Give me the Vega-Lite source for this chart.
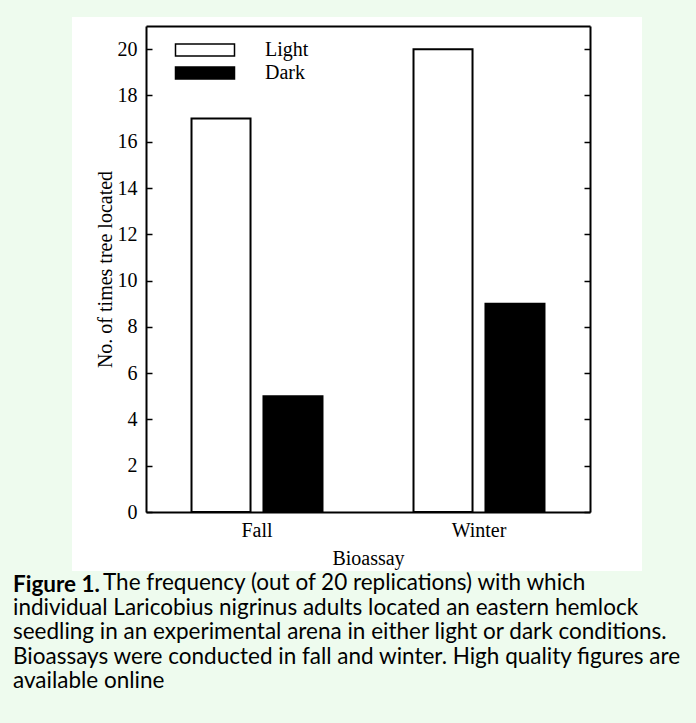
{
  "$schema": "https://vega.github.io/schema/vega-lite/v6.json",
  "autosize": {"type": "none"},
  "width": 570,
  "height": 554,
  "padding": {"left": 72, "top": 17, "right": 54, "bottom": 152},
  "background": "#EEFBEE",
  "data": {"values": [
    {"season": "Fall", "condition": "Light", "count": 17},
    {"season": "Fall", "condition": "Dark", "count": 5},
    {"season": "Winter", "condition": "Light", "count": 20},
    {"season": "Winter", "condition": "Dark", "count": 9}
  ]},
  "title": {
    "text": "Figure 1.",
    "subtitle": [
      "\u200b\u2003\u2003\u2003\u2003\u2003\u2009\u2009The frequency (out of 20 replications) with which",
      "individual Laricobius nigrinus adults located an eastern hemlock",
      "seedling in an experimental arena in either light or dark conditions.",
      "Bioassays were conducted in fall and winter. High quality figures are",
      "available online"
    ],
    "orient": "bottom",
    "anchor": "start",
    "frame": "group",
    "dx": -59,
    "offset": 3,
    "font": "Lato",
    "fontSize": 22.5,
    "fontWeight": "bold",
    "lineHeight": 24.5,
    "color": "black",
    "subtitleFont": "Lato",
    "subtitleFontSize": 22.5,
    "subtitleFontWeight": "normal",
    "subtitleLineHeight": 24.5,
    "subtitleColor": "black",
    "subtitlePadding": -24.5
  },
  "config": {
    "view": {"fill": "white", "stroke": null},
    "axis": {
      "labelFont": "Liberation Serif",
      "titleFont": "Liberation Serif",
      "labelFontSize": 20,
      "titleFontSize": 20,
      "titleFontWeight": "normal",
      "labelColor": "black",
      "titleColor": "black",
      "domainColor": "black",
      "domainWidth": 2,
      "tickColor": "black",
      "tickWidth": 1.5,
      "grid": false
    }
  },
  "resolve": {"axis": {"x": "independent", "y": "independent"}},
  "layer": [
    {
      "mark": {"type": "bar", "stroke": "black", "strokeWidth": 2},
      "encoding": {
        "x": {
          "field": "season", "type": "nominal", "sort": ["Fall", "Winter"],
          "scale": {"range": [74, 518], "paddingInner": 0.41, "paddingOuter": 0.205},
          "axis": {"orient": "bottom", "offset": -59, "ticks": false, "labelAngle": 0, "labelPadding": 8, "title": "Bioassay", "titlePadding": 8}
        },
        "xOffset": {
          "field": "condition", "type": "nominal", "sort": ["Light", "Dark"],
          "scale": {"paddingInner": 0.18, "paddingOuter": 0}
        },
        "y": {
          "field": "count", "type": "quantitative",
          "scale": {"domain": [0, 21], "range": [495, 9], "nice": false, "zero": true},
          "axis": {"orient": "left", "offset": -74, "values": [0, 2, 4, 6, 8, 10, 12, 14, 16, 18, 20], "tickSize": -6, "labelPadding": 15, "title": "No. of times tree located", "titlePadding": 2}
        },
        "color": {
          "field": "condition", "type": "nominal",
          "scale": {"domain": ["Light", "Dark"], "range": ["white", "black"]},
          "legend": {
            "orient": "none", "legendX": 120, "legendY": 20, "title": null,
            "symbolType": "M-2.5,-0.5H2.5V0.5H-2.5Z", "symbolSize": 557,
            "symbolStrokeColor": "black", "symbolStrokeWidth": 1.5,
            "labelFont": "Liberation Serif", "labelFontSize": 20, "labelColor": "black",
            "labelOffset": 47, "rowPadding": 0
          }
        }
      }
    },
    {
      "mark": {"type": "bar", "opacity": 0},
      "encoding": {
        "x": {
          "field": "season", "type": "nominal", "sort": ["Fall", "Winter"],
          "scale": {"range": [74, 518], "paddingInner": 0.41, "paddingOuter": 0.205},
          "axis": {"orient": "top", "offset": -9, "ticks": false, "labels": false, "title": null}
        },
        "y": {
          "field": "count", "type": "quantitative",
          "scale": {"domain": [0, 21], "range": [495, 9], "nice": false, "zero": true},
          "axis": {"orient": "right", "offset": -52, "values": [0, 2, 4, 6, 8, 10, 12, 14, 16, 18, 20], "tickSize": -6, "labels": false, "title": null}
        }
      }
    }
  ]
}
